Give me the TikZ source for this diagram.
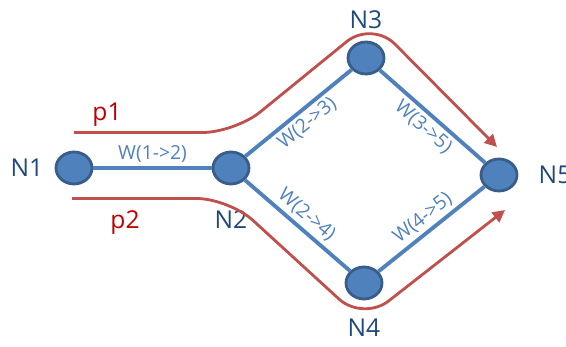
\documentclass[tikz,border=0pt]{standalone}
\usepackage{fontspec}
\setmainfont{Open Sans}
\usepackage{tikz}
\usetikzlibrary{positioning,shapes.geometric,arrows.meta}
\definecolor{nodeblue}{HTML}{4F81BD}
\definecolor{rimblue}{HTML}{385D8A}
\definecolor{textblue}{HTML}{1F497D}
\definecolor{routered}{HTML}{C0504D}
\definecolor{labelred}{HTML}{C00000}

\begin{document}
\begin{tikzpicture}[auto,node distance=2cm,on grid]
	\tikzstyle{router}=[ellipse,draw=rimblue,fill=nodeblue,line width=1.6pt,minimum width=0.72cm,minimum height=0.64cm,inner sep=0pt]
	\tikzstyle{tag}=[text=textblue,font=\fontsize{14}{16}\selectfont]
	\tikzstyle{link}=[draw=nodeblue,line width=2.2pt]
	\tikzstyle{weight}=[text=nodeblue,font=\fontsize{11}{13}\selectfont,sloped,inner sep=2pt]
	\tikzstyle{route}=[draw=routered,line width=1.6pt,rounded corners=0.65cm,-{Triangle[length=7pt,width=7pt]}]
	\useasboundingbox (-1.48,3.36) rectangle (9.84,-3.58);
		\node[router] (n1) {};
		\node[router, right=3.14cm of n1] (n2) {};
		\node[router, above right=2.2cm and 2.7cm of n2] (n3) {};
		\node[router, below right=2.3cm and 2.66cm of n2] (n4) {};
		\node[router, below right=2.34cm and 2.66cm of n3] (n5) {};
		\node[tag, left=0.94cm of n1] (l1) {N1};
		\node[tag, below=1.04cm of n2] (l2) {N2};
		\node[tag, above=0.76cm of n3] (l3) {N3};
		\node[tag, below=0.9cm of n4] (l4) {N4};
		\node[tag, right=1.12cm of n5] (l5) {N5};
			\draw[link] (n1) edge node[weight] {W(1->2)} (n2);
			\draw[link] (n2) edge node[weight,swap] {W(2->3)} (n3);
			\draw[link] (n3) edge node[weight,swap] {W(3->5)} (n5);
			\draw[link] (n2) edge node[weight] {W(2->4)} (n4);
			\draw[link] (n4) edge node[weight] {W(4->5)} (n5);
		% paths p1 and p2
		\coordinate (p1s) at (0,0.71);
		\coordinate (p1e) at (8.46,0.42);
		\coordinate (p2s) at (-0.04,-0.61);
		\coordinate (p2e) at (8.62,-0.84);
			\draw[route] (p1s) -- (3.22,0.71) -- (5.96,2.94) -- (p1e);
			\draw[route] (p2s) -- (3.10,-0.61) -- (5.78,-3.06) -- (p2e);
		\node[text=labelred,font=\fontsize{14}{16}\selectfont] (p1) at (0.66,1.06) {p1};
		\node[text=labelred,font=\fontsize{14}{16}\selectfont] (p2) at (1.02,-1.10) {p2};
\end{tikzpicture}
\end{document}
